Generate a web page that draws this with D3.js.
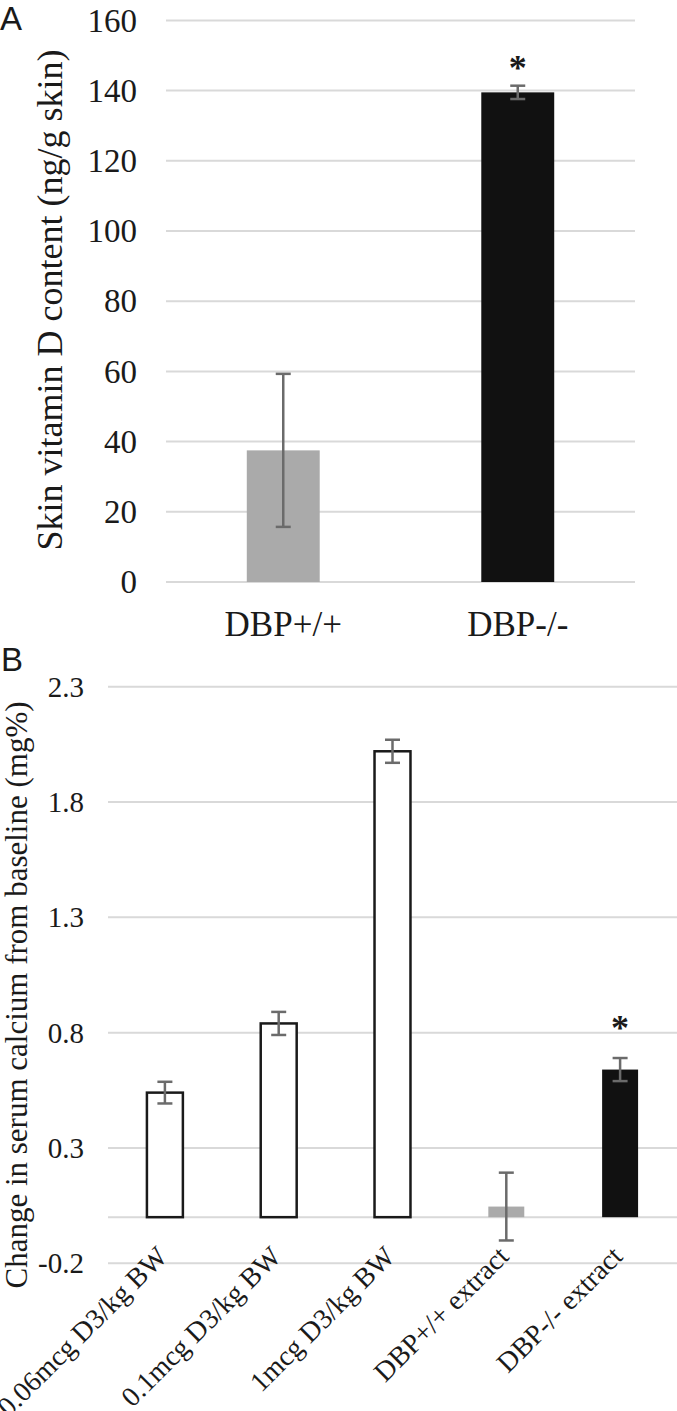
<!DOCTYPE html>
<html>
<head>
<meta charset="utf-8">
<script src="https://cdn.jsdelivr.net/npm/d3@7"></script>
<style>
  html, body { margin: 0; padding: 0; background: #fff; }
  svg { display: block; }
  text { font-family: "Liberation Serif", "Times New Roman", serif; fill: #1a1a1a; }
</style>
</head>
<body>
<svg id="chart" width="677" height="1411"></svg>
<script>
// ---- Panel A data ----
const categoriesA = ["DBP+/+", "DBP-/-"];
const valuesA = [37.5, 139.5];
const errorsA = [21.8, 1.9];
const colorsA = ["#aaaaaa", "#111111"];
const significantA = [false, true];
const ticksA = [0, 20, 40, 60, 80, 100, 120, 140, 160];

// ---- Panel B data ----
const categoriesB = ["0.06mcg D3/kg BW", "0.1mcg D3/kg BW", "1mcg D3/kg BW", "DBP+/+ extract", "DBP-/- extract"];
const valuesB = [0.54, 0.84, 2.02, 0.046, 0.64];
const errorsB = [0.047, 0.05, 0.05, 0.147, 0.05];
const fillsB = ["#ffffff", "#ffffff", "#ffffff", "#aaaaaa", "#111111"];
const strokesB = ["#1a1a1a", "#1a1a1a", "#1a1a1a", "none", "none"];
const significantB = [false, false, false, false, true];
const ticksB = [-0.2, 0.3, 0.8, 1.3, 1.8, 2.3];

const svg = d3.select("#chart");
const gridColor = "#d9d9d9";
const errColor = "#6b6b6b";

// ================= Panel A =================
const xA = d3.scaleBand().domain(categoriesA).range([166, 635]).padding(0);
const yA = d3.scaleLinear().domain([0, 160]).range([582, 20.4]);
const bwA = xA.bandwidth() * 0.311;
const gA = svg.append("g");

gA.selectAll("line.grid").data(ticksA).join("line")
  .attr("x1", 166).attr("x2", 635)
  .attr("y1", d => yA(d)).attr("y2", d => yA(d))
  .attr("stroke", gridColor).attr("stroke-width", 2);

gA.selectAll("text.tick").data(ticksA).join("text")
  .attr("x", 137).attr("y", d => yA(d)).attr("dy", "0.34em")
  .attr("text-anchor", "end").attr("font-size", 33)
  .text(d => d);

const dataA = categoriesA.map((c, i) => ({c, v: valuesA[i], e: errorsA[i], col: colorsA[i], s: significantA[i]}));

gA.selectAll("rect").data(dataA).join("rect")
  .attr("x", d => xA(d.c) + xA.bandwidth() / 2 - bwA / 2)
  .attr("width", bwA)
  .attr("y", d => yA(d.v))
  .attr("height", d => yA(0) - yA(d.v))
  .attr("fill", d => d.col);

const ebA = gA.selectAll("g.eb").data(dataA).join("g");
ebA.append("line")
  .attr("x1", d => xA(d.c) + xA.bandwidth() / 2).attr("x2", d => xA(d.c) + xA.bandwidth() / 2)
  .attr("y1", d => yA(d.v + d.e)).attr("y2", d => yA(d.v - d.e))
  .attr("stroke", errColor).attr("stroke-width", 2.5);
[1, -1].forEach(sgn => {
  ebA.append("line")
    .attr("x1", d => xA(d.c) + xA.bandwidth() / 2 - 7.5).attr("x2", d => xA(d.c) + xA.bandwidth() / 2 + 7.5)
    .attr("y1", d => yA(d.v + sgn * d.e)).attr("y2", d => yA(d.v + sgn * d.e))
    .attr("stroke", errColor).attr("stroke-width", 2.5);
});

gA.selectAll("text.star").data(dataA.filter(d => d.s)).join("text")
  .attr("x", d => xA(d.c) + xA.bandwidth() / 2)
  .attr("y", d => yA(d.v + d.e) - 6)
  .attr("text-anchor", "middle").attr("font-size", 36).attr("font-weight", "bold")
  .text("*");

gA.selectAll("text.xl").data(categoriesA).join("text")
  .attr("x", d => xA(d) + xA.bandwidth() / 2).attr("y", 636)
  .attr("text-anchor", "middle").attr("font-size", 35)
  .text(d => d);

gA.append("text")
  .attr("transform", "translate(62,300) rotate(-90)")
  .attr("text-anchor", "middle").attr("font-size", 36)
  .text("Skin vitamin D content (ng/g skin)");

svg.append("text").attr("x", 0).attr("y", 30)
  .style("font-family", "'Liberation Sans', Arial, sans-serif")
  .attr("font-size", 33).text("A");

// ================= Panel B =================
const xB = d3.scaleBand().domain(categoriesB).range([108, 677]).padding(0);
const yB = d3.scaleLinear().domain([-0.2, 2.3]).range([1263.3, 686.7]);
const bwB = xB.bandwidth() * 0.316;
const gB = svg.append("g");

gB.selectAll("line.grid").data(ticksB.concat([0])).join("line")
  .attr("x1", 108).attr("x2", 677)
  .attr("y1", d => yB(d)).attr("y2", d => yB(d))
  .attr("stroke", gridColor).attr("stroke-width", 2);

gB.selectAll("text.tick").data(ticksB).join("text")
  .attr("x", 84).attr("y", d => yB(d)).attr("dy", "0.34em")
  .attr("text-anchor", "end").attr("font-size", 29)
  .text(d => d3.format(".1f")(d).replace("−", "-"));

const dataB = categoriesB.map((c, i) => ({c, v: valuesB[i], e: errorsB[i], f: fillsB[i], st: strokesB[i], s: significantB[i]}));

gB.selectAll("rect").data(dataB).join("rect")
  .attr("x", d => xB(d.c) + xB.bandwidth() / 2 - bwB / 2)
  .attr("width", bwB)
  .attr("y", d => yB(d.v))
  .attr("height", d => yB(0) - yB(d.v))
  .attr("fill", d => d.f)
  .attr("stroke", d => d.st).attr("stroke-width", 2.5);

const ebB = gB.selectAll("g.eb").data(dataB).join("g");
ebB.append("line")
  .attr("x1", d => xB(d.c) + xB.bandwidth() / 2).attr("x2", d => xB(d.c) + xB.bandwidth() / 2)
  .attr("y1", d => yB(d.v + d.e)).attr("y2", d => yB(d.v - d.e))
  .attr("stroke", errColor).attr("stroke-width", 2.5);
[1, -1].forEach(sgn => {
  ebB.append("line")
    .attr("x1", d => xB(d.c) + xB.bandwidth() / 2 - 7.5).attr("x2", d => xB(d.c) + xB.bandwidth() / 2 + 7.5)
    .attr("y1", d => yB(d.v + sgn * d.e)).attr("y2", d => yB(d.v + sgn * d.e))
    .attr("stroke", errColor).attr("stroke-width", 2.5);
});

gB.selectAll("text.star").data(dataB.filter(d => d.s)).join("text")
  .attr("x", d => xB(d.c) + xB.bandwidth() / 2)
  .attr("y", d => yB(d.v + d.e) - 18)
  .attr("text-anchor", "middle").attr("font-size", 36).attr("font-weight", "bold")
  .text("*");

gB.selectAll("text.xl").data(categoriesB).join("text")
  .attr("transform", d => `translate(${xB(d) + xB.bandwidth() / 2 + 4},1258) rotate(-45)`)
  .attr("text-anchor", "end").attr("font-size", 28)
  .text(d => d);

gB.append("text")
  .attr("transform", "translate(27,995) rotate(-90)")
  .attr("text-anchor", "middle").attr("font-size", 31)
  .text("Change in serum calcium from baseline (mg%)");

svg.append("text").attr("x", 1).attr("y", 671)
  .style("font-family", "'Liberation Sans', Arial, sans-serif")
  .attr("font-size", 33).text("B");
</script>
</body>
</html>
